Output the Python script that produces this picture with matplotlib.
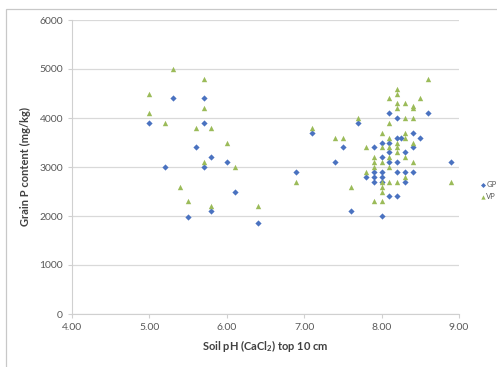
import matplotlib
matplotlib.use("Agg")
import matplotlib.pyplot as plt
from matplotlib.patches import Rectangle

plt.rcParams["font.family"] = ["Lato", "DejaVu Sans"]
plt.rcParams["mathtext.fontset"] = "custom"
plt.rcParams["mathtext.bf"] = "Lato:bold"
plt.rcParams["mathtext.rm"] = "Lato:bold"

# GP series (blue diamonds)
gp_ph = [5.0, 5.3, 5.2, 5.7, 5.7, 5.6, 5.8, 5.7, 6.0, 6.1, 5.5, 5.8, 6.4,
         6.9, 7.1, 7.5, 7.4, 7.6, 7.7,
         7.8, 7.9, 7.9, 7.9, 7.9,
         8.0, 8.0, 8.0, 8.0, 8.0, 8.0,
         8.1, 8.1, 8.1, 8.1, 8.1,
         8.2, 8.2, 8.25, 8.2, 8.2, 8.2,
         8.3, 8.3, 8.3,
         8.4, 8.4, 8.4,
         8.5, 8.6, 8.9]
gp_p = [3900, 4400, 3000, 4400, 3900, 3400, 3200, 3000, 3100, 2500, 1980, 2100, 1850,
        2900, 3700, 3400, 3100, 2100, 3900,
        2800, 3400, 2900, 2800, 2700,
        3200, 2900, 2800, 2700, 2000, 3500,
        4100, 3500, 3300, 3100, 2400,
        4000, 3600, 3600, 3100, 2900, 2400,
        3300, 2900, 2700,
        3700, 3400, 2900,
        3600, 4100, 3100]

# VP series (green triangles)
vp_ph = [5.0, 5.0, 5.3, 5.2, 5.7, 5.7, 5.6, 5.8, 6.0, 5.7, 6.1, 5.4, 5.5, 5.8, 6.4,
         6.9, 7.1, 7.4, 7.5, 7.6, 7.7,
         7.8, 7.8,
         7.9, 7.9, 7.9, 7.9,
         8.0, 8.0, 8.0, 8.0, 8.0, 8.0, 8.0,
         8.1, 8.1, 8.1, 8.1, 8.1, 8.1, 8.1,
         8.2, 8.2, 8.2, 8.2, 8.2, 8.2, 8.2, 8.2,
         8.3, 8.3, 8.3, 8.3, 8.3, 8.3,
         8.4, 8.4, 8.4, 8.4, 8.4,
         8.5, 8.6, 8.9]
vp_p = [4500, 4100, 5000, 3900, 4800, 4200, 3800, 3800, 3500, 3100, 3000, 2600, 2300, 2200, 2200,
        2700, 3800, 3600, 3600, 2600, 4000,
        3400, 2900,
        3200, 3100, 3000, 2300,
        3700, 3400, 3100, 2700, 2600, 2500, 2300,
        4400, 3900, 3600, 3400, 3200, 3000, 2700,
        4600, 4500, 4300, 4200, 3500, 3400, 3300, 2700,
        4300, 4000, 3700, 3600, 3200, 2800,
        4250, 4200, 4000, 3500, 3100,
        4400, 4800, 2700]

x_ticks = [4, 5, 6, 7, 8, 9]
y_ticks = [0, 1000, 2000, 3000, 4000, 5000, 6000]

fig = plt.figure(figsize=(4.97, 3.67), dpi=100)
# light chart border (only top and left edges fall inside the crop)
fig.patches.append(Rectangle((6 / 497, -0.1), 1.2, 1 - 9 / 367 + 0.1, transform=fig.transFigure,
                             fill=False, edgecolor="#c8c8c8", lw=0.9))
ax = fig.add_axes([72 / 497, 1 - 314 / 367, (459 - 72) / 497, (314 - 20) / 367])

ax.scatter(gp_ph, gp_p, marker="D", s=10, color="#4a72c0", label="GP", zorder=3, linewidths=0)
ax.scatter(vp_ph, vp_p, marker="^", s=15, color="#9bbb59", label="VP", zorder=3, linewidths=0)

ax.set_xlim(4, 9)
ax.set_ylim(0, 6000)
ax.set_xticks(x_ticks)
ax.set_xticklabels([f"{v:.2f}" for v in x_ticks])
ax.set_yticks(y_ticks)
ax.grid(axis="y", color="#d9d9d9", lw=0.9)
ax.set_axisbelow(True)
for side in ["top", "right"]:
    ax.spines[side].set_visible(False)
for side in ["left", "bottom"]:
    ax.spines[side].set_color("#d0d0d0")
ax.tick_params(colors="#d0d0d0", labelcolor="#595959", labelsize=7.5, length=3)

ax.set_xlabel(r"Soil pH (CaCl$_{2}$) top 10 cm", fontsize=8, fontweight="bold", color="#404040", labelpad=4)
ax.set_ylabel("Grain P content (mg/kg)", fontsize=8, fontweight="bold", color="#404040", labelpad=6)

ax.legend(loc="center left", bbox_to_anchor=(1.045, 0.42), frameon=False, fontsize=5.5,
          handletextpad=0.1, markerscale=0.8, labelcolor="#595959", borderaxespad=0,
          handlelength=0.8, labelspacing=0.6)

fig.savefig("out.png", dpi=100)
